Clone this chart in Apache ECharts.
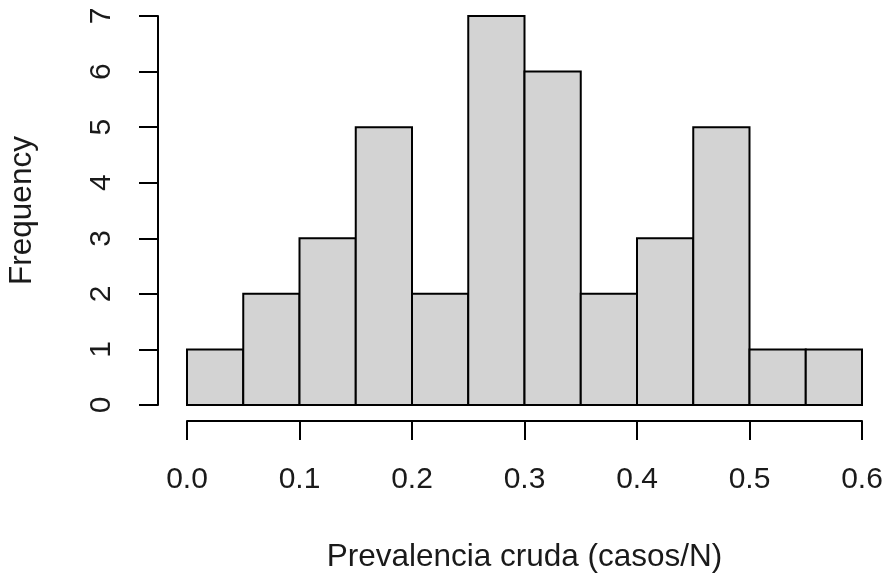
<!DOCTYPE html>
<html>
<head>
<meta charset="utf-8">
<script src="https://cdn.jsdelivr.net/npm/echarts@6/dist/echarts.min.js"></script>
<style>
  html, body { margin: 0; padding: 0; background: #fff; }
  #chart { width: 886px; height: 576px; }
</style>
</head>
<body>
<div id="chart"></div>
<script>
// Histogram bins (left edge, right edge) and counts
const binStarts = [0.00, 0.05, 0.10, 0.15, 0.20, 0.25, 0.30, 0.35, 0.40, 0.45, 0.50, 0.55];
const binEnds   = [0.05, 0.10, 0.15, 0.20, 0.25, 0.30, 0.35, 0.40, 0.45, 0.50, 0.55, 0.60];
const counts    = [1, 2, 3, 5, 2, 7, 6, 2, 3, 5, 1, 1];

const xTitle = 'Prevalencia cruda (casos/N)';
const yTitle = 'Frequency';

const FONT = '"Liberation Sans", Arial, sans-serif';
const TEXT = '#1a1a1a';

const histData = counts.map((c, i) => [binStarts[i], binEnds[i], c]);

const chart = echarts.init(document.getElementById('chart'), null, { renderer: 'canvas' });
chart.setOption({
  animation: false,
  backgroundColor: '#ffffff',
  grid: { left: 187, right: 24, top: 16, bottom: 171, containLabel: false, outerBoundsMode: 'none' },
  xAxis: {
    type: 'value', min: 0, max: 0.6, interval: 0.1,
    offset: 16,
    axisLine: { show: true, onZero: false, lineStyle: { color: '#000', width: 2 } },
    axisTick: { show: true, length: 19, lineStyle: { color: '#000', width: 2 } },
    axisLabel: { margin: 44, fontFamily: FONT, fontSize: 30, color: TEXT,
                 formatter: v => v.toFixed(1) },
    splitLine: { show: false },
    name: xTitle, nameLocation: 'middle', nameGap: 120,
    nameTextStyle: { fontFamily: FONT, fontSize: 31.5, color: TEXT }
  },
  yAxis: {
    type: 'value', min: 0, max: 7, interval: 1,
    offset: 29,
    axisLine: { show: true, onZero: false, lineStyle: { color: '#000', width: 2 } },
    axisTick: { show: true, length: 19, lineStyle: { color: '#000', width: 2 } },
    axisLabel: { margin: 41, rotate: 90, fontFamily: FONT, fontSize: 30, color: TEXT },
    splitLine: { show: false },
    name: yTitle, nameLocation: 'middle', nameGap: 120, nameRotate: 90,
    nameTextStyle: { fontFamily: FONT, fontSize: 31.5, color: TEXT }
  },
  series: [{
    type: 'custom',
    data: histData,
    encode: { x: [0, 1], y: 2 },
    renderItem: function (params, api) {
      const p0 = api.coord([api.value(0), 0]);
      const p1 = api.coord([api.value(1), api.value(2)]);
      return {
        type: 'rect',
        shape: { x: p0[0], y: p1[1], width: p1[0] - p0[0], height: p0[1] - p1[1] },
        style: { fill: '#d3d3d3', stroke: '#000', lineWidth: 2 }
      };
    }
  }]
});
</script>
</body>
</html>
